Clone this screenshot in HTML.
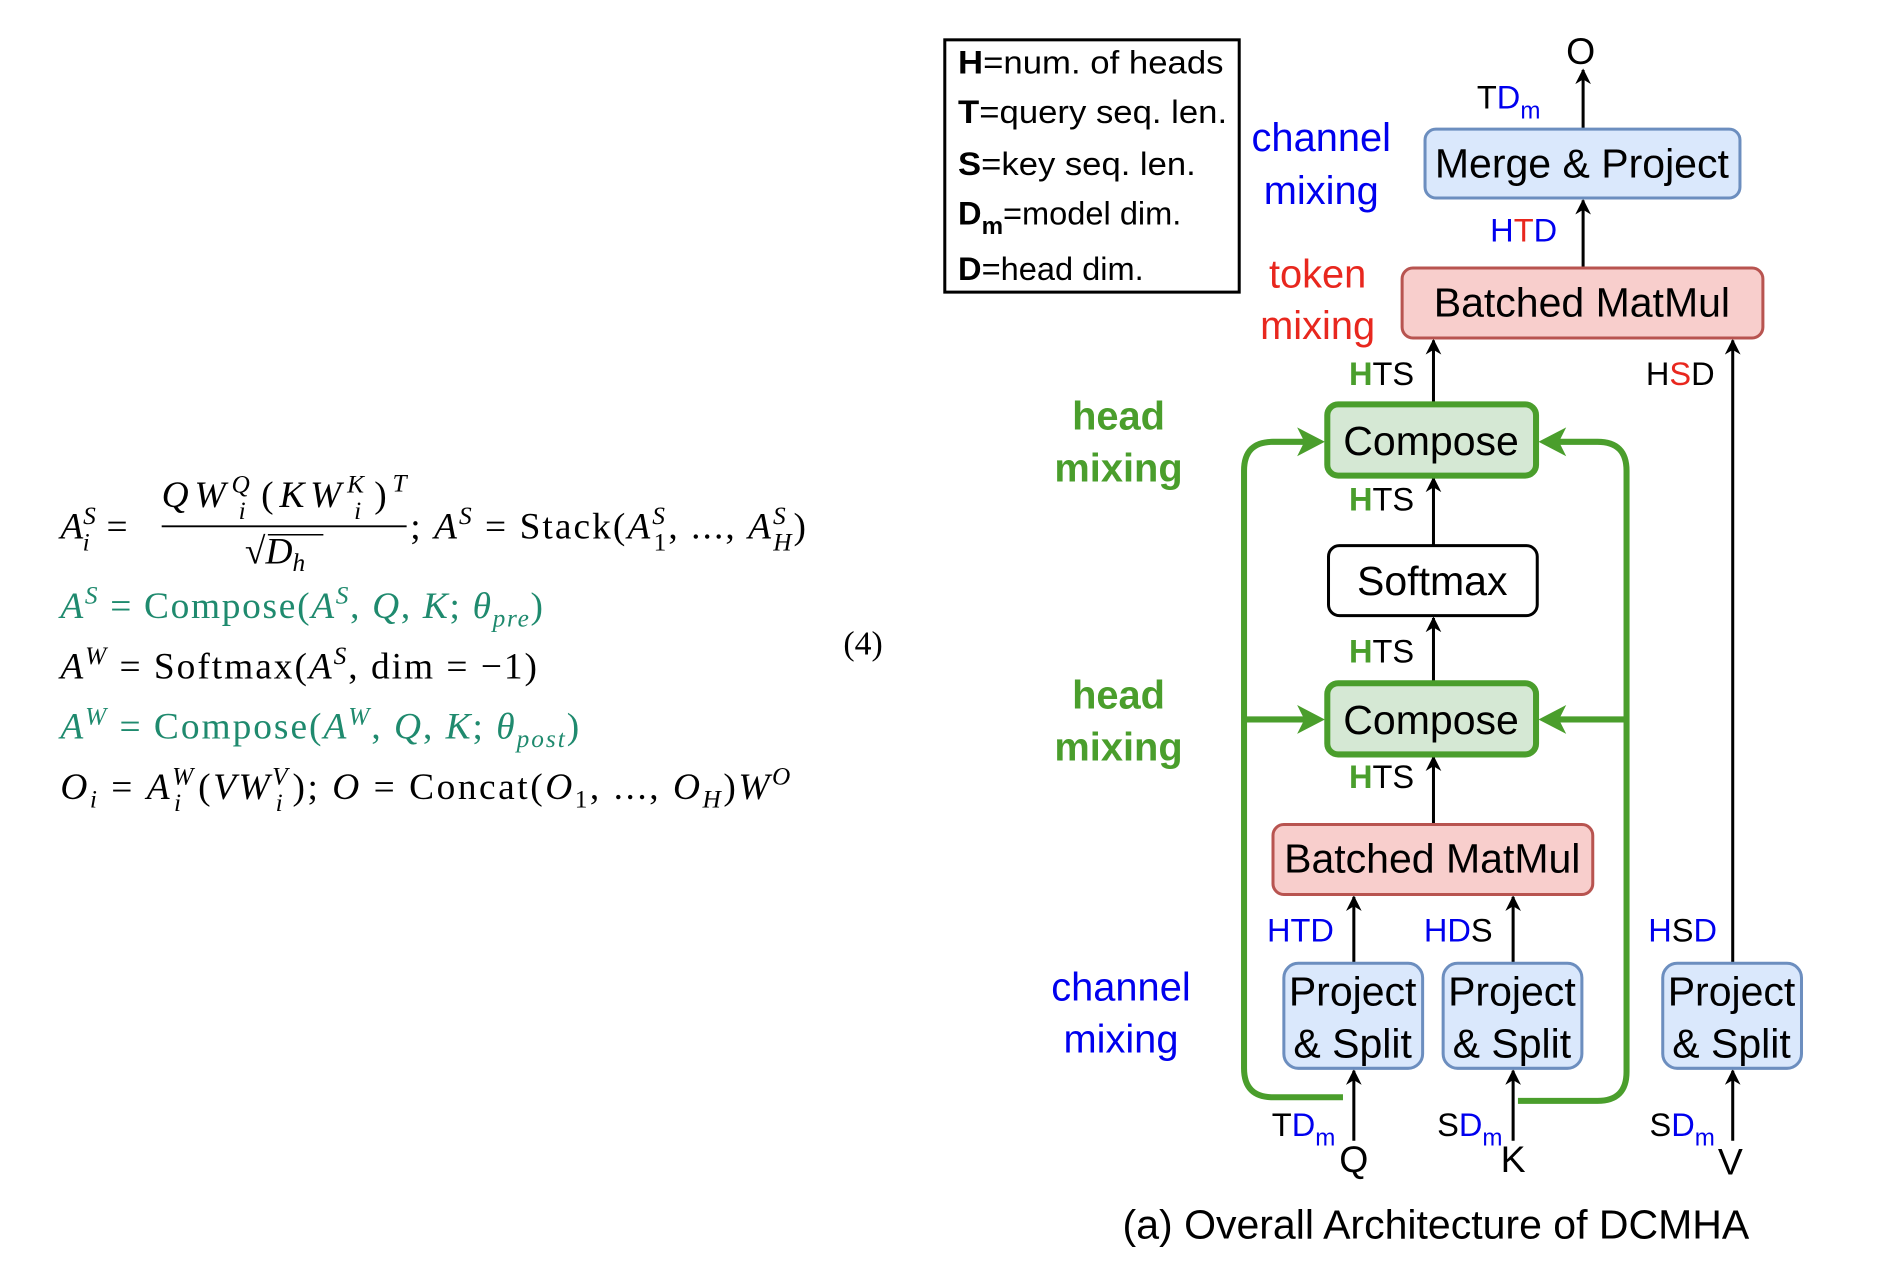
<!DOCTYPE html>
<html><head><meta charset="utf-8"><style>
html,body{margin:0;padding:0;background:#fff;width:1892px;height:1288px;overflow:hidden}
svg{display:block}
.s{font-family:"Liberation Sans",sans-serif}
.m{font-family:"Liberation Serif",serif;font-size:31px}
.i{font-style:italic}
</style></head><body>
<svg width="1892" height="1288" viewBox="0 0 1568 1067" preserveAspectRatio="none" xmlns="http://www.w3.org/2000/svg">
<defs>
<marker id="a" viewBox="0 0 10 10" refX="9" refY="5" markerWidth="13" markerHeight="13" orient="auto-start-reverse" markerUnits="userSpaceOnUse"><path d="M0,0 L10,5 L0,10 L3,5z" fill="#000"/></marker>
</defs>
<style>
.ar{stroke:#000;stroke-width:2.5;fill:none}
.g{stroke:#4a9e2c;stroke-width:5;fill:none}
</style>

<!-- equations -->
<g class="m">
<text x="50" y="446"><tspan class="i">A</tspan><tspan class="i" font-size="21" dy="-12">S</tspan><tspan class="i" font-size="21" dx="-11" dy="22">i</tspan><tspan dx="14" dy="-10">=</tspan></text>
<text x="134" y="420" textLength="203" lengthAdjust="spacing"><tspan class="i">QW</tspan><tspan class="i" font-size="21" dy="-12">Q</tspan><tspan class="i" font-size="21" dx="-14" dy="22">i</tspan><tspan dx="8" dy="-10">(</tspan><tspan class="i">KW</tspan><tspan class="i" font-size="21" dy="-12">K</tspan><tspan class="i" font-size="21" dx="-13" dy="22">i</tspan><tspan dx="6" dy="-10">)</tspan><tspan class="i" font-size="21" dy="-13">T</tspan></text>
<line x1="134" y1="436" x2="337" y2="436" stroke="#000" stroke-width="1.5"/>
<text x="203" y="467">√<tspan class="i">D</tspan><tspan class="i" font-size="21" dy="6">h</tspan></text>
<line x1="222" y1="443" x2="268" y2="443" stroke="#000" stroke-width="1.3"/>
<text x="340" y="446" textLength="328" lengthAdjust="spacing">; <tspan class="i">A</tspan><tspan class="i" font-size="21" dy="-12">S</tspan><tspan dy="12"> = Stack(</tspan><tspan class="i">A</tspan><tspan class="i" font-size="21" dy="-12">S</tspan><tspan font-size="21" dx="-11" dy="22">1</tspan><tspan dy="-10">, ..., </tspan><tspan class="i">A</tspan><tspan class="i" font-size="21" dy="-12">S</tspan><tspan class="i" font-size="21" dx="-12" dy="22">H</tspan><tspan dy="-10">)</tspan></text>

<text x="50" y="512" fill="#1f8a6e" textLength="400" lengthAdjust="spacing"><tspan class="i">A</tspan><tspan class="i" font-size="21" dy="-12">S</tspan><tspan dy="12"> = Compose(</tspan><tspan class="i">A</tspan><tspan class="i" font-size="21" dy="-12">S</tspan><tspan dy="12">, </tspan><tspan class="i">Q</tspan>, <tspan class="i">K</tspan>; <tspan class="i">θ</tspan><tspan class="i" font-size="21" dy="7">pre</tspan><tspan dy="-7">)</tspan></text>

<text x="50" y="562" textLength="395" lengthAdjust="spacing"><tspan class="i">A</tspan><tspan class="i" font-size="21" dy="-12">W</tspan><tspan dy="12">  = Softmax(</tspan><tspan class="i">A</tspan><tspan class="i" font-size="21" dy="-12">S</tspan><tspan dy="12">, dim = −1)</tspan></text>

<text x="50" y="612" fill="#1f8a6e" textLength="430" lengthAdjust="spacing"><tspan class="i">A</tspan><tspan class="i" font-size="21" dy="-12">W</tspan><tspan dy="12">  = Compose(</tspan><tspan class="i">A</tspan><tspan class="i" font-size="21" dy="-12">W</tspan><tspan dy="12">, </tspan><tspan class="i">Q</tspan>, <tspan class="i">K</tspan>; <tspan class="i">θ</tspan><tspan class="i" font-size="21" dy="7">post</tspan><tspan dy="-7">)</tspan></text>

<text x="50" y="662" textLength="605" lengthAdjust="spacing"><tspan class="i">O</tspan><tspan class="i" font-size="21" dy="7">i</tspan><tspan dy="-7"> = </tspan><tspan class="i">A</tspan><tspan class="i" font-size="21" dy="-12">W</tspan><tspan class="i" font-size="21" dx="-18" dy="22">i</tspan><tspan dx="12" dy="-10">(</tspan><tspan class="i">VW</tspan><tspan class="i" font-size="21" dy="-12">V</tspan><tspan class="i" font-size="21" dx="-12" dy="22">i</tspan><tspan dx="6" dy="-10">); </tspan><tspan class="i">O</tspan> = Concat(<tspan class="i">O</tspan><tspan font-size="21" dy="7">1</tspan><tspan dy="-7">, ..., </tspan><tspan class="i">O</tspan><tspan class="i" font-size="21" dy="7">H</tspan><tspan dy="-7">)</tspan><tspan class="i">W</tspan><tspan class="i" font-size="21" dy="-12">O</tspan></text>

<text x="699" y="542" font-size="28">(4)</text>
</g>

<!-- legend -->
<rect x="783" y="33" width="244" height="209" fill="#fff" stroke="#000" stroke-width="2.5"/>
<g class="s" font-size="27">
<text x="794" y="61" textLength="220" lengthAdjust="spacingAndGlyphs"><tspan font-weight="bold">H</tspan>=num. of heads</text>
<text x="794" y="102" textLength="223" lengthAdjust="spacingAndGlyphs"><tspan font-weight="bold">T</tspan>=query seq. len.</text>
<text x="794" y="145" textLength="197" lengthAdjust="spacingAndGlyphs"><tspan font-weight="bold">S</tspan>=key seq. len.</text>
<text x="794" y="186"><tspan font-weight="bold">D</tspan><tspan font-weight="bold" font-size="20" dy="8">m</tspan><tspan dy="-8">=model dim.</tspan></text>
<text x="794" y="232"><tspan font-weight="bold">D</tspan>=head dim.</text>
</g>

<!-- side labels -->
<g class="s" font-size="33" text-anchor="middle">
<text x="1095" y="125" fill="#0000ee">channel</text>
<text x="1095" y="169" fill="#0000ee">mixing</text>
<text x="1092" y="238" fill="#e8271e">token</text>
<text x="1092" y="281" fill="#e8271e">mixing</text>
<text x="927" y="356" fill="#4a9e2c" font-weight="bold">head</text>
<text x="927" y="399" fill="#4a9e2c" font-weight="bold">mixing</text>
<text x="927" y="587" fill="#4a9e2c" font-weight="bold">head</text>
<text x="927" y="630" fill="#4a9e2c" font-weight="bold">mixing</text>
<text x="929" y="829" fill="#0000ee">channel</text>
<text x="929" y="872" fill="#0000ee">mixing</text>
</g>

<!-- green loops -->
<path class="g" d="M1113,909 L1055,909 Q1031,909 1031,885 L1031,390 Q1031,366 1055,366 L1086,366"/>
<path class="g" d="M1258,912 L1324,912 Q1348,912 1348,888 L1348,390 Q1348,366 1324,366 L1287,366"/>
<path class="g" d="M1031,596 L1086,596"/>
<path class="g" d="M1348,596 L1287,596"/>
<path d="M1098,366 L1075,354 L1081,366 L1075,378z" fill="#4a9e2c"/>
<path d="M1275,366 L1298,354 L1292,366 L1298,378z" fill="#4a9e2c"/>
<path d="M1098,596 L1075,584 L1081,596 L1075,608z" fill="#4a9e2c"/>
<path d="M1275,596 L1298,584 L1292,596 L1298,608z" fill="#4a9e2c"/>

<!-- arrows -->
<line class="ar" x1="1312" y1="107" x2="1312" y2="58" marker-end="url(#a)"/>
<line class="ar" x1="1312" y1="222" x2="1312" y2="166" marker-end="url(#a)"/>
<line class="ar" x1="1188" y1="335" x2="1188" y2="282" marker-end="url(#a)"/>
<line class="ar" x1="1436" y1="798" x2="1436" y2="282" marker-end="url(#a)"/>
<line class="ar" x1="1188" y1="452" x2="1188" y2="396" marker-end="url(#a)"/>
<line class="ar" x1="1188" y1="566" x2="1188" y2="512" marker-end="url(#a)"/>
<line class="ar" x1="1188" y1="683" x2="1188" y2="627" marker-end="url(#a)"/>
<line class="ar" x1="1122" y1="798" x2="1122" y2="743" marker-end="url(#a)"/>
<line class="ar" x1="1254" y1="798" x2="1254" y2="743" marker-end="url(#a)"/>
<line class="ar" x1="1122" y1="945" x2="1122" y2="887" marker-end="url(#a)"/>
<line class="ar" x1="1254" y1="945" x2="1254" y2="887" marker-end="url(#a)"/>
<line class="ar" x1="1436" y1="945" x2="1436" y2="887" marker-end="url(#a)"/>

<!-- boxes -->
<rect x="1181" y="107" width="261" height="57" rx="9" fill="#dae8fc" stroke="#6c8ebf" stroke-width="2.5"/>
<rect x="1162" y="222" width="299" height="58" rx="9" fill="#f8cecc" stroke="#b85450" stroke-width="2.5"/>
<rect x="1100" y="335" width="173" height="59" rx="9" fill="#d5e8d4" stroke="#4a9e2c" stroke-width="5"/>
<rect x="1101" y="452" width="173" height="58" rx="9" fill="#fff" stroke="#000" stroke-width="2.5"/>
<rect x="1100" y="566" width="173" height="59" rx="9" fill="#d5e8d4" stroke="#4a9e2c" stroke-width="5"/>
<rect x="1055" y="683" width="265" height="58" rx="9" fill="#f8cecc" stroke="#b85450" stroke-width="2.5"/>
<rect x="1064" y="798" width="115" height="87" rx="12" fill="#dae8fc" stroke="#6c8ebf" stroke-width="2.5"/>
<rect x="1196" y="798" width="115" height="87" rx="12" fill="#dae8fc" stroke="#6c8ebf" stroke-width="2.5"/>
<rect x="1378" y="798" width="115" height="87" rx="12" fill="#dae8fc" stroke="#6c8ebf" stroke-width="2.5"/>

<g class="s" font-size="34" text-anchor="middle">
<text x="1311" y="147">Merge &amp; Project</text>
<text x="1311" y="262">Batched MatMul</text>
<text x="1186" y="377">Compose</text>
<text x="1187" y="493">Softmax</text>
<text x="1186" y="608">Compose</text>
<text x="1187" y="723">Batched MatMul</text>
<text x="1121" y="833">Project</text><text x="1121" y="876">&amp; Split</text>
<text x="1253" y="833">Project</text><text x="1253" y="876">&amp; Split</text>
<text x="1435" y="833">Project</text><text x="1435" y="876">&amp; Split</text>
<text x="1310" y="53" font-size="31">O</text>
<text x="1122" y="971" font-size="31">Q</text>
<text x="1254" y="971" font-size="31">K</text>
<text x="1434" y="973" font-size="31">V</text>
<text x="1190" y="1026" font-size="34">(a) Overall Architecture of DCMHA</text>
</g>

<!-- dimension labels -->
<g class="s" font-size="27">
<text x="1224" y="90">T<tspan fill="#0000ee">D</tspan><tspan fill="#0000ee" font-size="20" dy="8">m</tspan></text>
<text x="1235" y="200" fill="#0000ee">H<tspan fill="#e8271e">T</tspan>D</text>
<text x="1118" y="319"><tspan fill="#4a9e2c" font-weight="bold">H</tspan>TS</text>
<text x="1364" y="319">H<tspan fill="#e8271e">S</tspan>D</text>
<text x="1118" y="423"><tspan fill="#4a9e2c" font-weight="bold">H</tspan>TS</text>
<text x="1118" y="549"><tspan fill="#4a9e2c" font-weight="bold">H</tspan>TS</text>
<text x="1118" y="653"><tspan fill="#4a9e2c" font-weight="bold">H</tspan>TS</text>
<text x="1050" y="780" fill="#0000ee">HTD</text>
<text x="1180" y="780" fill="#0000ee">HD<tspan fill="#000">S</tspan></text>
<text x="1366" y="780" fill="#0000ee">H<tspan fill="#000">S</tspan>D</text>
<text x="1054" y="941">T<tspan fill="#0000ee">D</tspan><tspan fill="#0000ee" font-size="20" dy="8">m</tspan></text>
<text x="1191" y="941">S<tspan fill="#0000ee">D</tspan><tspan fill="#0000ee" font-size="20" dy="8">m</tspan></text>
<text x="1367" y="941">S<tspan fill="#0000ee">D</tspan><tspan fill="#0000ee" font-size="20" dy="8">m</tspan></text>
</g>
</svg>
</body></html>
